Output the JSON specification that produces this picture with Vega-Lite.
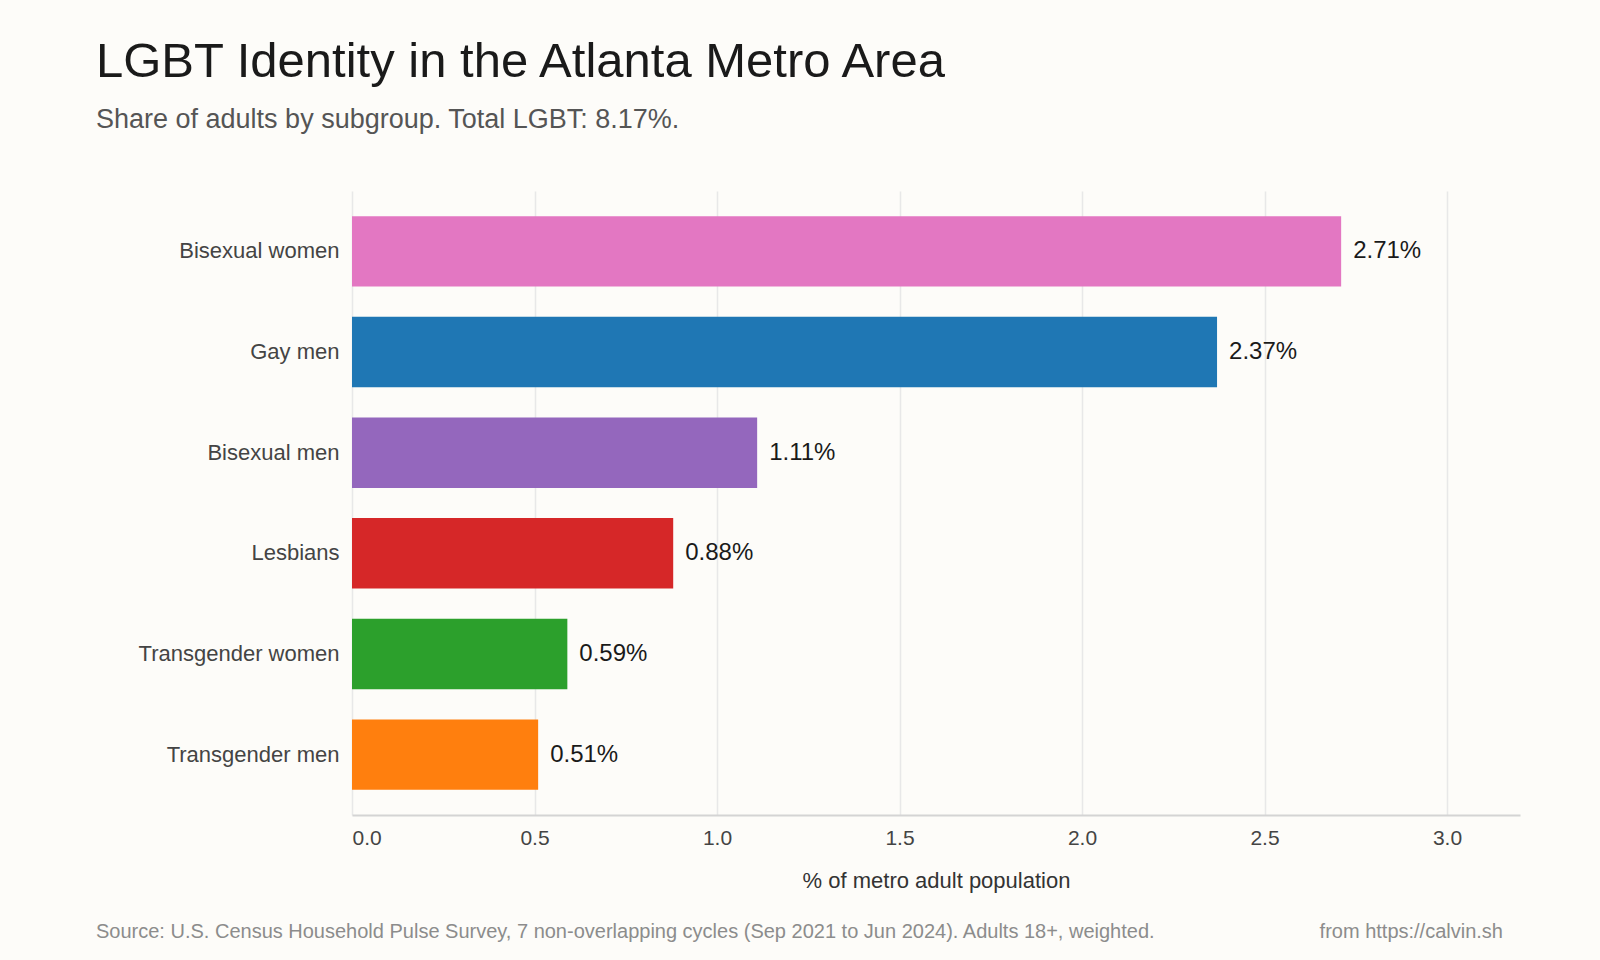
{
  "$schema": "https://vega.github.io/schema/vega-lite/v6.json",
  "background": "#fdfcf9",
  "padding": {"left": 96, "top": 38, "right": 80, "bottom": 20},
  "title": {
    "text": "LGBT Identity in the Atlanta Metro Area",
    "subtitle": "Share of adults by subgroup. Total LGBT: 8.17%.",
    "anchor": "start",
    "frame": "bounds",
    "font": "Liberation Sans",
    "fontSize": 49,
    "fontWeight": "normal",
    "color": "#1a1a1a",
    "subtitleFont": "Liberation Sans",
    "subtitleFontSize": 27,
    "subtitleColor": "#555555",
    "subtitlePadding": 20,
    "offset": 58
  },
  "datasets": {
    "groups": [
      {"group": "Bisexual women", "share": 2.71, "label": "2.71%"},
      {"group": "Gay men", "share": 2.37, "label": "2.37%"},
      {"group": "Bisexual men", "share": 1.11, "label": "1.11%"},
      {"group": "Lesbians", "share": 0.88, "label": "0.88%"},
      {"group": "Transgender women", "share": 0.59, "label": "0.59%"},
      {"group": "Transgender men", "share": 0.51, "label": "0.51%"}
    ],
    "notes": [
      {"side": "right", "note": "from https://calvin.sh"}
    ]
  },
  "spacing": 30,
  "vconcat": [
    {
      "width": 1168,
      "height": 624,
      "data": {"name": "groups"},
      "encoding": {
        "y": {
          "field": "group",
          "type": "nominal",
          "sort": "-x",
          "scale": {"paddingInner": 0.3, "paddingOuter": 0.25},
          "axis": {
            "title": null,
            "ticks": false,
            "domain": false,
            "labelFontSize": 22,
            "labelColor": "#444444",
            "labelPadding": 13,
            "labelLimit": 300,
            "minExtent": 256,
            "maxExtent": 256
          }
        },
        "x": {
          "field": "share",
          "type": "quantitative",
          "scale": {"domain": [0, 3.2], "nice": false},
          "axis": {
            "title": "% of metro adult population",
            "values": [0, 0.5, 1, 1.5, 2, 2.5, 3],
            "format": ".1f",
            "grid": true,
            "gridColor": "#e8e8e8",
            "gridWidth": 1.5,
            "domainColor": "#d4d4d4",
            "domainWidth": 2,
            "ticks": false,
            "labelFontSize": 21,
            "labelColor": "#444444",
            "labelPadding": 12,
            "titleFontSize": 22,
            "titleColor": "#333333",
            "titleFontWeight": "normal",
            "titlePadding": 22
          }
        }
      },
      "layer": [
        {
          "mark": {"type": "bar"},
          "encoding": {
            "color": {
              "field": "group",
              "type": "nominal",
              "scale": {
                "domain": ["Bisexual women", "Gay men", "Bisexual men", "Lesbians", "Transgender women", "Transgender men"],
                "range": ["#e377c2", "#1f77b4", "#9467bd", "#d62728", "#2ca02c", "#ff7f0e"]
              },
              "legend": null
            }
          }
        },
        {
          "mark": {"type": "text", "align": "left", "baseline": "middle", "dx": 12, "fontSize": 24, "color": "#1a1a1a"},
          "encoding": {"text": {"field": "label"}}
        }
      ]
    },
    {
      "width": 1151,
      "height": 1,
      "data": {"name": "notes"},
      "title": {
        "text": "Source: U.S. Census Household Pulse Survey, 7 non-overlapping cycles (Sep 2021 to Jun 2024). Adults 18+, weighted.",
        "orient": "bottom",
        "anchor": "start",
        "frame": "bounds",
        "offset": -20,
        "font": "Liberation Sans",
        "fontSize": 20,
        "fontWeight": "normal",
        "color": "#8c8c8c"
      },
      "encoding": {
        "x": {
          "field": "side",
          "type": "nominal",
          "scale": {"type": "point", "domain": ["left", "right"], "padding": 0},
          "axis": null
        },
        "y": {
          "datum": "note",
          "type": "nominal",
          "axis": {
            "title": null,
            "labels": false,
            "ticks": false,
            "domain": false,
            "grid": false,
            "minExtent": 256,
            "maxExtent": 256
          }
        },
        "text": {"field": "note"}
      },
      "mark": {"type": "text", "align": "right", "baseline": "top", "fontSize": 20, "color": "#8c8c8c"}
    }
  ],
  "config": {
    "view": {"stroke": null},
    "font": "Liberation Sans"
  }
}
